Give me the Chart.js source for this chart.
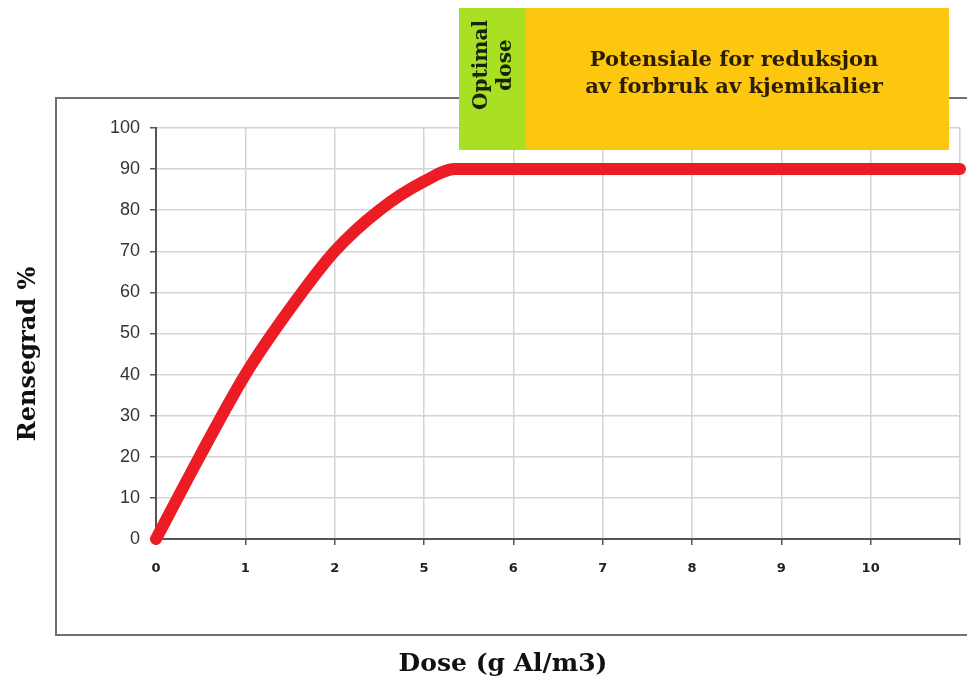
<!DOCTYPE html>
<html>
<head>
<meta charset="utf-8">
<script src="https://cdn.jsdelivr.net/npm/chart.js@4"></script>
<style>
  html, body { margin: 0; padding: 0; background: #fff; }
  #wrap { width: 967px; height: 681px; position: relative; }
</style>
</head>
<body>
<div id="wrap"><canvas id="dose"></canvas></div>
<script>
// tick labels along x (category positions, last one is blank)
const xLabels = ['0', '1', '2', '5', '6', '7', '8', '9', '10', ''];
// curve: position on the x axis (tick index) and rensegrad %
const xPos = [0, 0.5, 1, 1.5, 2, 2.5, 3, 3.35, 9];
const rensegrad = [0, 20.5, 40, 56, 70, 80, 87, 90, 90];
const yTicks = [0, 10, 20, 30, 40, 50, 60, 70, 80, 90, 100];

const serif = '"DejaVu Serif", "Liberation Serif", serif';

const decorations = {
    id: 'decorations',
    beforeDraw(chart) {
        const ctx = chart.ctx;
        ctx.save();
        ctx.strokeStyle = '#707070';
        ctx.lineWidth = 2;
        ctx.strokeRect(56, 98, 930, 537);
        ctx.restore();
    },
    afterDraw(chart) {
        const ctx = chart.ctx;
        ctx.save();
        // boxes on top
        ctx.fillStyle = '#a9e024';
        ctx.fillRect(459, 8, 67, 142);
        ctx.fillStyle = '#fdc60f';
        ctx.fillRect(526, 8, 423, 142);

        ctx.fillStyle = '#2b1d05';
        ctx.font = 'bold 21px ' + serif;
        ctx.textAlign = 'center';
        ctx.textBaseline = 'middle';
        ctx.fillText('Potensiale for reduksjon', 734, 61);
        ctx.fillText('av forbruk av kjemikalier', 734, 88);

        ctx.save();
        ctx.translate(494, 65);
        ctx.rotate(-Math.PI / 2);
        ctx.fillStyle = '#16240a';
        ctx.font = 'bold 20px ' + serif;
        ctx.fillText('Optimal', 0, -12);
        ctx.fillText('dose', 0, 12);
        ctx.restore();

        // axis titles
        ctx.fillStyle = '#111';
        ctx.font = 'bold 25px ' + serif;
        ctx.fillText('Dose (g Al/m3)', 503, 664);
        ctx.font = 'bold 24px ' + serif;
        ctx.translate(29, 354);
        ctx.rotate(-Math.PI / 2);
        ctx.fillText('Rensegrad %', 0, 0);
        ctx.restore();
    }
};

new Chart(document.getElementById('dose').getContext('2d'), {
    type: 'line',
    data: {
        datasets: [
            {
                label: 'Rensegrad',
                data: xPos.map((x, i) => ({ x: x, y: rensegrad[i] })),
                borderColor: '#ec1c24',
                borderWidth: 12,
                borderCapStyle: 'round',
                borderJoinStyle: 'round',
                pointRadius: 0,
                cubicInterpolationMode: 'monotone',
                fill: false,
                clip: 8,
            },
        ],
    },
    options: {
        responsive: true,
        maintainAspectRatio: false,
        animation: false,
        layout: { padding: { left: 0, right: 7, top: 128, bottom: 0 } },
        plugins: { legend: { display: false }, tooltip: { enabled: false } },
        scales: {
            x: {
                type: 'linear',
                min: 0,
                max: xLabels.length - 1,
                afterFit: (s) => { s.height = 142; s.paddingLeft = 0; s.paddingRight = 0; },
                afterBuildTicks: (s) => { s.ticks = xLabels.map((l, i) => ({ value: i })); },
                grid: { color: '#d4d4d4', lineWidth: 1.5, tickLength: 6, tickColor: '#555' },
                border: { color: '#555', width: 2 },
                ticks: {
                    padding: 16,
                    color: '#222',
                    font: { family: '"DejaVu Sans"', size: 13, weight: 'bold' },
                    callback: (v) => xLabels[v],
                },
            },
            y: {
                min: 0,
                max: 100,
                afterFit: (s) => { s.width = 156; },
                afterBuildTicks: (s) => { s.ticks = yTicks.map((v) => ({ value: v })); },
                grid: { color: '#d4d4d4', lineWidth: 1.5, tickLength: 6, tickColor: '#555' },
                border: { color: '#555', width: 2 },
                ticks: {
                    padding: 10,
                    color: '#333',
                    font: { family: '"Liberation Sans"', size: 18 },
                },
            },
        },
    },
    plugins: [decorations],
});
</script>
</body>
</html>
